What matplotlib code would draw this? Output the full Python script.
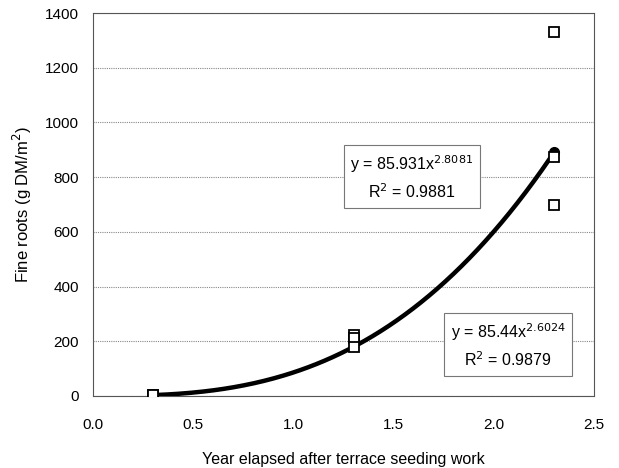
import numpy as np
import matplotlib
matplotlib.use("Agg")
import matplotlib.pyplot as plt

plt.rcParams["font.family"] = ["Liberation Sans", "DejaVu Sans"]

# individual plots (open squares)
obs_x = [0.3, 0.3, 1.3, 1.3, 1.3, 2.3, 2.3, 2.3]
obs_y = [5, 3, 222, 212, 180, 1330, 875, 700]
# means (filled circles)
mean_x = [0.3, 1.3, 2.3]
mean_y = [4, 205, 893]
# power fit y = a * x^b
fit_a = 85.931
fit_b = 2.8081

fig = plt.figure(figsize=(6.19, 4.68), dpi=100)
ax = fig.add_axes([0.150, 0.154, 0.810, 0.818])

xs = np.linspace(0.3, 2.3, 200)
ax.plot(xs, fit_a * xs ** fit_b, color="black", lw=3.2, zorder=3)
ax.plot(mean_x, mean_y, "o", color="black", ms=7, zorder=4)
ax.plot(obs_x, obs_y, "s", mfc="white", mec="black", mew=1.3, ms=7.5, zorder=5)

ax.set_xlim(0, 2.5)
ax.set_ylim(0, 1400)
ax.set_xticks(np.arange(0, 2.51, 0.5))
ax.set_yticks(np.arange(0, 1401, 200))
ax.xaxis.set_major_formatter(matplotlib.ticker.FormatStrFormatter("%.1f"))
ax.grid(axis="y", color="#888888", ls=(0, (1, 1)), lw=0.8)
ax.set_axisbelow(True)
ax.tick_params(axis="y", length=0, labelsize=11, pad=10)
ax.tick_params(axis="x", length=0, labelsize=11, pad=16)
for s in ax.spines.values():
    s.set_color("#555555")
    s.set_linewidth(0.8)

ax.set_xlabel("Year elapsed after terrace seeding work", fontsize=11.5, labelpad=14)
ax.set_ylabel("Fine roots (g DM/m$^2$)", fontsize=12, labelpad=8)

box = dict(boxstyle="square,pad=0.4", fc="white", ec="#777777", lw=0.8)
ax.text(1.59, 800, "y = 85.931x$^{2.8081}$\nR$^2$ = 0.9881", ha="center", va="center",
        fontsize=11.5, bbox=box, linespacing=1.5, zorder=6)
ax.text(2.07, 186, "y = 85.44x$^{2.6024}$\nR$^2$ = 0.9879", ha="center", va="center",
        fontsize=11.5, bbox=box, linespacing=1.5, zorder=6)

fig.savefig("out.png", dpi=100)
